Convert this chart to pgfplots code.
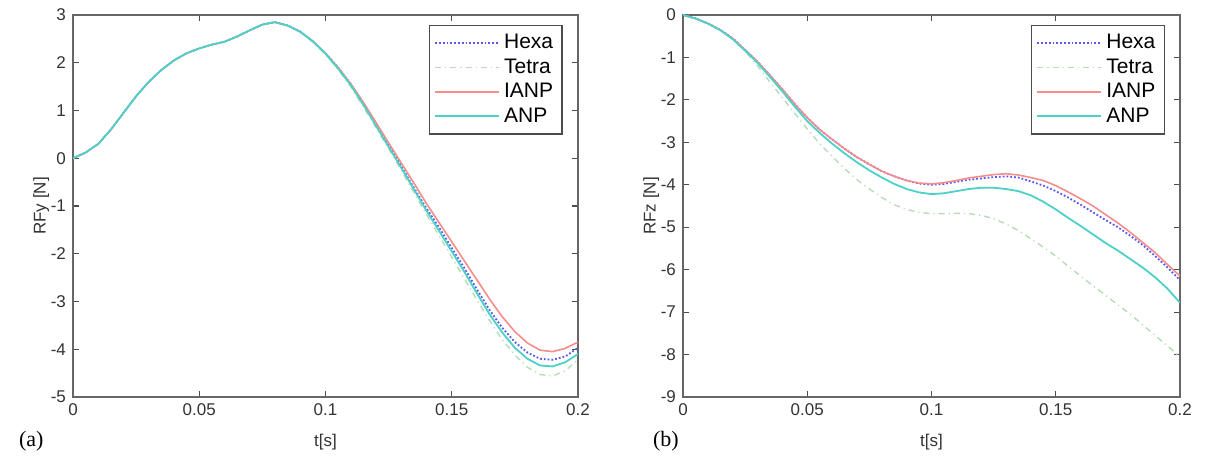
\documentclass[border=0pt]{standalone}
\usepackage{fontspec}
\setmainfont{Liberation Serif}
\setsansfont{Liberation Sans}
\usepackage{pgfplots}
\pgfplotsset{compat=1.18}

\definecolor{hexacol}{rgb}{0.35,0.35,0.95}
\definecolor{tetracol}{rgb}{0.72,0.86,0.72}
\definecolor{ianpcol}{rgb}{0.97,0.55,0.55}
\definecolor{anpcol}{rgb}{0.30,0.82,0.78}

\pgfplotsset{
  panel/.style={
    scale only axis,
    anchor=south west,
    height=191pt,
    xmin=0, xmax=0.2,
    xtick={0,0.05,...,0.2},
    xticklabels={0,0.05,0.1,0.15,0.2},
    tick align=inside,
    major tick length=3pt,
    axis line style={black!60, line width=0.7pt},
    every tick/.style={black!70, line width=0.6pt},
    tick label style={font=\sffamily\fontsize{8.5}{9}\selectfont, black!80},
    /pgf/number format/assume math mode=true,
    label style={font=\sffamily\fontsize{8.5}{9}\selectfont, black!80},
    xlabel={t[s]},
    xlabel style={yshift=-2pt},
    ylabel style={yshift=-6pt},
    legend style={at={(0.97,0.975)}, anchor=north east, draw=black!70,
      line width=0.7pt, font=\sffamily\fontsize{10.5}{11}\selectfont,
      row sep=-0.5pt, inner sep=2.5pt},
    legend cell align=left,
    legend image code/.code={\draw[##1] (0pt,0pt) -- (32pt,0pt);},
  },
  hexa/.style={hexacol, densely dotted, line width=0.9pt},
  tetra/.style={tetracol, dash pattern=on 3pt off 2pt on 0.6pt off 2pt, line width=0.7pt},
  ianp/.style={ianpcol, line width=0.8pt},
  anp/.style={anpcol, line width=0.9pt},
}

\begin{document}
\begin{tikzpicture}
\useasboundingbox (0,0) rectangle (606pt,235.5pt);

% (a) RFy
\begin{axis}[panel, at={(36.5pt,37pt)}, width=252.5pt,
  ymin=-5, ymax=3, ytick={-5,-4,...,3}, ylabel={RFy [N]}]
\addplot[hexa] coordinates {
(0,0) (0.005,0.12) (0.01,0.3) (0.015,0.6) (0.02,0.95) (0.025,1.3) (0.03,1.6)
(0.035,1.85) (0.04,2.05) (0.045,2.2) (0.05,2.3) (0.055,2.38) (0.06,2.44)
(0.065,2.55) (0.07,2.68) (0.075,2.8) (0.08,2.85) (0.085,2.78) (0.09,2.65)
(0.095,2.45) (0.1,2.2) (0.105,1.9) (0.11,1.55) (0.115,1.15) (0.12,0.72)
(0.125,0.28) (0.13,-0.17) (0.135,-0.62) (0.14,-1.05) (0.145,-1.45) (0.15,-1.88)
(0.155,-2.3) (0.16,-2.75) (0.165,-3.18) (0.17,-3.55) (0.175,-3.85) (0.18,-4.07)
(0.185,-4.2) (0.19,-4.22) (0.195,-4.15) (0.2,-3.97)};
\addlegendentry{Hexa}
\addplot[tetra] coordinates {
(0,0) (0.005,0.12) (0.01,0.3) (0.015,0.6) (0.02,0.95) (0.025,1.3) (0.03,1.6)
(0.035,1.85) (0.04,2.05) (0.045,2.2) (0.05,2.3) (0.055,2.38) (0.06,2.44)
(0.065,2.55) (0.07,2.68) (0.075,2.8) (0.08,2.85) (0.085,2.78) (0.09,2.64)
(0.095,2.43) (0.1,2.17) (0.105,1.86) (0.11,1.5) (0.115,1.08) (0.12,0.64)
(0.125,0.2) (0.13,-0.25) (0.135,-0.72) (0.14,-1.18) (0.145,-1.62) (0.15,-2.07)
(0.155,-2.52) (0.16,-2.97) (0.165,-3.4) (0.17,-3.8) (0.175,-4.12) (0.18,-4.38)
(0.185,-4.53) (0.19,-4.56) (0.195,-4.45) (0.2,-4.22)};
\addlegendentry{Tetra}
\addplot[ianp] coordinates {
(0,0) (0.005,0.12) (0.01,0.3) (0.015,0.6) (0.02,0.95) (0.025,1.3) (0.03,1.6)
(0.035,1.85) (0.04,2.05) (0.045,2.2) (0.05,2.3) (0.055,2.38) (0.06,2.44)
(0.065,2.55) (0.07,2.68) (0.075,2.8) (0.08,2.85) (0.085,2.78) (0.09,2.65)
(0.095,2.45) (0.1,2.2) (0.105,1.9) (0.11,1.56) (0.115,1.17) (0.12,0.75)
(0.125,0.32) (0.13,-0.1) (0.135,-0.52) (0.14,-0.95) (0.145,-1.35) (0.15,-1.75)
(0.155,-2.15) (0.16,-2.55) (0.165,-2.95) (0.17,-3.32) (0.175,-3.63) (0.18,-3.87)
(0.185,-4.02) (0.19,-4.05) (0.195,-3.98) (0.2,-3.85)};
\addlegendentry{IANP}
\addplot[anp] coordinates {
(0,0) (0.005,0.12) (0.01,0.3) (0.015,0.6) (0.02,0.95) (0.025,1.3) (0.03,1.6)
(0.035,1.85) (0.04,2.05) (0.045,2.2) (0.05,2.3) (0.055,2.38) (0.06,2.44)
(0.065,2.55) (0.07,2.68) (0.075,2.8) (0.08,2.85) (0.085,2.78) (0.09,2.65)
(0.095,2.45) (0.1,2.19) (0.105,1.88) (0.11,1.53) (0.115,1.12) (0.12,0.68)
(0.125,0.24) (0.13,-0.2) (0.135,-0.65) (0.14,-1.1) (0.145,-1.52) (0.15,-1.95)
(0.155,-2.38) (0.16,-2.83) (0.165,-3.27) (0.17,-3.65) (0.175,-3.97) (0.18,-4.2)
(0.185,-4.34) (0.19,-4.36) (0.195,-4.27) (0.2,-4.1)};
\addlegendentry{ANP}
\end{axis}

% (b) RFz
\begin{axis}[panel, at={(341.5pt,37pt)}, width=248.5pt,
  ymin=-9, ymax=0, ytick={-9,-8,...,0}, ylabel={RFz [N]}]
\addplot[hexa] coordinates {
(0,0) (0.005,-0.08) (0.01,-0.2) (0.015,-0.35) (0.02,-0.55) (0.025,-0.82)
(0.03,-1.1) (0.035,-1.42) (0.04,-1.75) (0.045,-2.1) (0.05,-2.42) (0.055,-2.7)
(0.06,-2.93) (0.065,-3.15) (0.07,-3.35) (0.075,-3.52) (0.08,-3.68) (0.085,-3.8)
(0.09,-3.9) (0.095,-3.97) (0.1,-4.0) (0.105,-3.98) (0.11,-3.93) (0.115,-3.88)
(0.12,-3.85) (0.125,-3.82) (0.13,-3.8) (0.135,-3.83) (0.14,-3.92) (0.145,-4.02)
(0.15,-4.15) (0.155,-4.3) (0.16,-4.47) (0.165,-4.65) (0.17,-4.83) (0.175,-5.0)
(0.18,-5.2) (0.185,-5.42) (0.19,-5.68) (0.195,-5.95) (0.2,-6.25)};
\addlegendentry{Hexa}
\addplot[tetra] coordinates {
(0,0) (0.005,-0.08) (0.01,-0.2) (0.015,-0.35) (0.02,-0.57) (0.025,-0.85)
(0.03,-1.2) (0.035,-1.58) (0.04,-1.95) (0.045,-2.32) (0.05,-2.68) (0.055,-3.03)
(0.06,-3.33) (0.065,-3.62) (0.07,-3.88) (0.075,-4.1) (0.08,-4.3) (0.085,-4.47)
(0.09,-4.58) (0.095,-4.65) (0.1,-4.68) (0.105,-4.68) (0.11,-4.67) (0.115,-4.68)
(0.12,-4.72) (0.125,-4.8) (0.13,-4.92) (0.135,-5.08) (0.14,-5.27) (0.145,-5.47)
(0.15,-5.68) (0.155,-5.92) (0.16,-6.15) (0.165,-6.38) (0.17,-6.6) (0.175,-6.83)
(0.18,-7.05) (0.185,-7.3) (0.19,-7.55) (0.195,-7.8) (0.2,-8.05)};
\addlegendentry{Tetra}
\addplot[ianp] coordinates {
(0,0) (0.005,-0.08) (0.01,-0.2) (0.015,-0.35) (0.02,-0.55) (0.025,-0.82)
(0.03,-1.1) (0.035,-1.42) (0.04,-1.75) (0.045,-2.1) (0.05,-2.42) (0.055,-2.7)
(0.06,-2.93) (0.065,-3.15) (0.07,-3.35) (0.075,-3.52) (0.08,-3.68) (0.085,-3.8)
(0.09,-3.9) (0.095,-3.96) (0.1,-3.98) (0.105,-3.95) (0.11,-3.9) (0.115,-3.84)
(0.12,-3.8) (0.125,-3.76) (0.13,-3.74) (0.135,-3.77) (0.14,-3.83) (0.145,-3.9)
(0.15,-4.02) (0.155,-4.17) (0.16,-4.33) (0.165,-4.5) (0.17,-4.7) (0.175,-4.9)
(0.18,-5.12) (0.185,-5.36) (0.19,-5.6) (0.195,-5.88) (0.2,-6.15)};
\addlegendentry{IANP}
\addplot[anp] coordinates {
(0,0) (0.005,-0.08) (0.01,-0.2) (0.015,-0.36) (0.02,-0.57) (0.025,-0.84)
(0.03,-1.13) (0.035,-1.46) (0.04,-1.8) (0.045,-2.16) (0.05,-2.5) (0.055,-2.78)
(0.06,-3.03) (0.065,-3.26) (0.07,-3.47) (0.075,-3.66) (0.08,-3.83) (0.085,-3.98)
(0.09,-4.1) (0.095,-4.18) (0.1,-4.22) (0.105,-4.2) (0.11,-4.15) (0.115,-4.1)
(0.12,-4.07) (0.125,-4.07) (0.13,-4.1) (0.135,-4.15) (0.14,-4.25) (0.145,-4.4)
(0.15,-4.58) (0.155,-4.78) (0.16,-4.97) (0.165,-5.17) (0.17,-5.37) (0.175,-5.55)
(0.18,-5.75) (0.185,-5.95) (0.19,-6.18) (0.195,-6.45) (0.2,-6.78)};
\addlegendentry{ANP}
\end{axis}

\node[anchor=base west, font=\fontsize{11}{12}\selectfont] at (6pt,12pt) {(a)};
\node[anchor=base west, font=\fontsize{11}{12}\selectfont] at (323pt,12pt) {(b)};
\end{tikzpicture}
\end{document}
